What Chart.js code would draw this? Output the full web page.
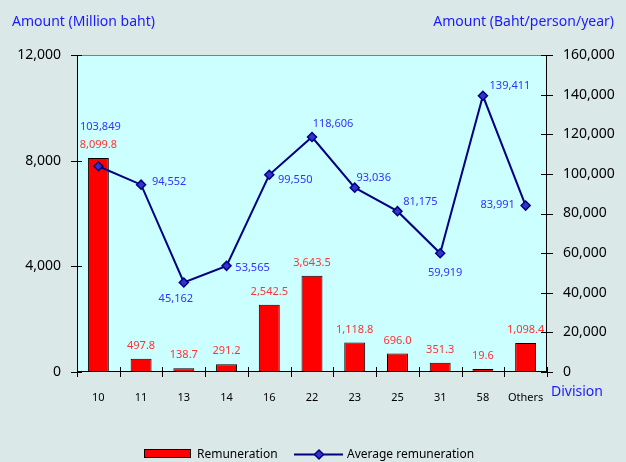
<!DOCTYPE html>
<html>
<head>
<meta charset="utf-8">
<script src="https://cdn.jsdelivr.net/npm/chart.js@4.4.0/dist/chart.umd.min.js"></script>
<style>
  body { margin: 0; background: #dbe8e8; }
  canvas { display: block; }
</style>
</head>
<body>
<canvas id="myChart" width="626" height="462"></canvas>
<script>
// chart data
const divisions = ['10', '11', '13', '14', '16', '22', '23', '25', '31', '58', 'Others'];
const remuneration = [8099.8, 497.8, 138.7, 291.2, 2542.5, 3643.5, 1118.8, 696.0, 351.3, 19.6, 1098.4];
const avgRemuneration = [103849, 94552, 45162, 53565, 99550, 118606, 93036, 81175, 59919, 139411, 83991];

// where each blue label sits relative to its point (dx, dy)
const avgLabelOffsets = [[2, -39], [28, -3], [-8, 16], [26, 2], [26, 5], [21, -13],
	[19, -10], [23, -9], [5, 20], [27, -10], [-28, -1]];

const FONT = '"Noto Sans", "DejaVu Sans", sans-serif';

const decorations = {
	id: 'decorations',
	beforeDraw(chart) {
		const ctx = chart.ctx;
		const a = chart.chartArea;
		ctx.save();
		ctx.fillStyle = '#dbe8e8';
		ctx.fillRect(0, 0, chart.width, chart.height);
		ctx.fillStyle = '#ccffff';
		ctx.fillRect(a.left, a.top, a.right - a.left, a.bottom - a.top);
		ctx.restore();
	},
	afterDatasetsDraw(chart) {
		const ctx = chart.ctx;
		ctx.save();
		ctx.font = '11px ' + FONT;
		ctx.textAlign = 'center';
		ctx.textBaseline = 'middle';

		// bar labels
		ctx.fillStyle = '#ff3333';
		chart.getDatasetMeta(1).data.forEach(function(bar, i) {
			let txt = remuneration[i].toLocaleString('en', {minimumFractionDigits: 1, maximumFractionDigits: 1});
			ctx.fillText(txt, bar.x, bar.y - 13);
		});

		// line labels
		ctx.fillStyle = '#3333ff';
		chart.getDatasetMeta(0).data.forEach(function(pt, i) {
			let off = avgLabelOffsets[i];
			ctx.fillText(avgRemuneration[i].toLocaleString('en'), pt.x + off[0], pt.y + off[1]);
		});
		ctx.restore();
	},
	afterDraw(chart) {
		const ctx = chart.ctx;
		const a = chart.chartArea;
		const y = chart.scales.y;
		const y2 = chart.scales.y2;
		const x = chart.scales.x;
		ctx.save();

		// top frame line
		ctx.strokeStyle = '#808080';
		ctx.lineWidth = 1;
		ctx.beginPath();
		ctx.moveTo(a.left, a.top + 0.5);
		ctx.lineTo(a.right, a.top + 0.5);
		ctx.stroke();

		// axis lines + ticks
		ctx.strokeStyle = '#000';
		ctx.beginPath();
		ctx.moveTo(a.left + 0.5, a.top);
		ctx.lineTo(a.left + 0.5, a.bottom);
		ctx.moveTo(a.right - 0.5, a.top);
		ctx.lineTo(a.right - 0.5, a.bottom);
		ctx.moveTo(a.left, a.bottom - 0.5);
		ctx.lineTo(a.right, a.bottom - 0.5);
		y.ticks.forEach(function(t) {
			let py = Math.round(y.getPixelForValue(t.value)) + 0.5;
			ctx.moveTo(a.left - 6, py);
			ctx.lineTo(a.left + 5, py);
		});
		y2.ticks.forEach(function(t) {
			let py = Math.round(y2.getPixelForValue(t.value)) + 0.5;
			ctx.moveTo(a.right - 6, py);
			ctx.lineTo(a.right + 6, py);
		});
		for (let i = 0; i <= divisions.length; i++) {
			let px = Math.round(x.getPixelForValue(i - 0.5)) + 0.5;
			ctx.moveTo(px, a.bottom - 5);
			ctx.lineTo(px, a.bottom + 5);
		}
		ctx.stroke();

		// axis titles
		ctx.fillStyle = '#1a1aff';
		ctx.font = '14px ' + FONT;
		ctx.textBaseline = 'middle';
		ctx.textAlign = 'left';
		ctx.fillText('Amount (Million baht)', 12, 22);
		ctx.textAlign = 'right';
		ctx.fillText('Amount (Baht/person/year)', 614, 22);
		ctx.textAlign = 'left';
		ctx.fillText('Division', 551, 392);

		// legend
		ctx.font = '12px ' + FONT;
		ctx.fillStyle = '#ff0000';
		ctx.fillRect(144, 449, 47, 9);
		ctx.strokeStyle = '#000';
		ctx.strokeRect(144.5, 449.5, 46, 8);
		ctx.fillStyle = '#000';
		ctx.fillText('Remuneration', 197, 455);
		ctx.strokeStyle = '#000080';
		ctx.lineWidth = 2;
		ctx.beginPath();
		ctx.moveTo(294, 454.5);
		ctx.lineTo(343, 454.5);
		ctx.stroke();
		ctx.fillStyle = '#3333cc';
		ctx.lineWidth = 1.5;
		ctx.beginPath();
		ctx.moveTo(319, 450);
		ctx.lineTo(323.5, 454.5);
		ctx.lineTo(319, 459);
		ctx.lineTo(314.5, 454.5);
		ctx.closePath();
		ctx.fill();
		ctx.stroke();
		ctx.fillStyle = '#000';
		ctx.fillText('Average remuneration', 347, 455);
		ctx.restore();
	}
};

const ctx = document.getElementById('myChart').getContext('2d');
const myChart = new Chart(ctx, {
	type: 'bar',
	data: {
		labels: divisions,
		datasets: [{
			type: 'line',
			label: 'Average remuneration',
			data: avgRemuneration,
			yAxisID: 'y2',
			borderColor: '#000080',
			borderWidth: 2,
			tension: 0,
			fill: false,
			pointStyle: 'rectRot',
			pointRadius: 4.5,
			pointBackgroundColor: '#3333cc',
			pointBorderColor: '#000080',
			pointBorderWidth: 1.5,
			order: 0
		},
		{
			label: 'Remuneration',
			data: remuneration,
			yAxisID: 'y',
			backgroundColor: '#ff0000',
			borderColor: '#000000',
			borderWidth: 1,
			borderSkipped: false,
			barPercentage: 0.49,
			categoryPercentage: 1,
			minBarLength: 3,
			order: 1
		}]
	},
	options: {
		responsive: false,
		animation: false,
		devicePixelRatio: 1,
		layout: { padding: { top: 55, left: 0, right: 0, bottom: 0 } },
		plugins: {
			legend: { display: false },
			tooltip: { enabled: false }
		},
		scales: {
			x: {
				offset: true,
				grid: { display: false, drawTicks: false },
				border: { display: false },
				ticks: {
					padding: 19,
					maxRotation: 0,
					autoSkip: false,
					color: '#000',
					font: { family: FONT, size: 11 }
				},
				afterFit: function(s) { s.height = 90; }
			},
			y: {
				position: 'left',
				min: 0,
				max: 12000,
				grid: { display: false, drawTicks: false },
				border: { display: false },
				ticks: {
					stepSize: 4000,
					padding: 16,
					color: '#000',
					font: { family: FONT, size: 14 }
				},
				afterFit: function(s) { s.width = 77; }
			},
			y2: {
				position: 'right',
				min: 0,
				max: 160000,
				grid: { display: false, drawTicks: false },
				border: { display: false },
				ticks: {
					stepSize: 20000,
					padding: 16,
					color: '#000',
					font: { family: FONT, size: 14 }
				},
				afterFit: function(s) { s.width = 79; }
			}
		}
	},
	plugins: [decorations]
});
</script>
</body>
</html>
